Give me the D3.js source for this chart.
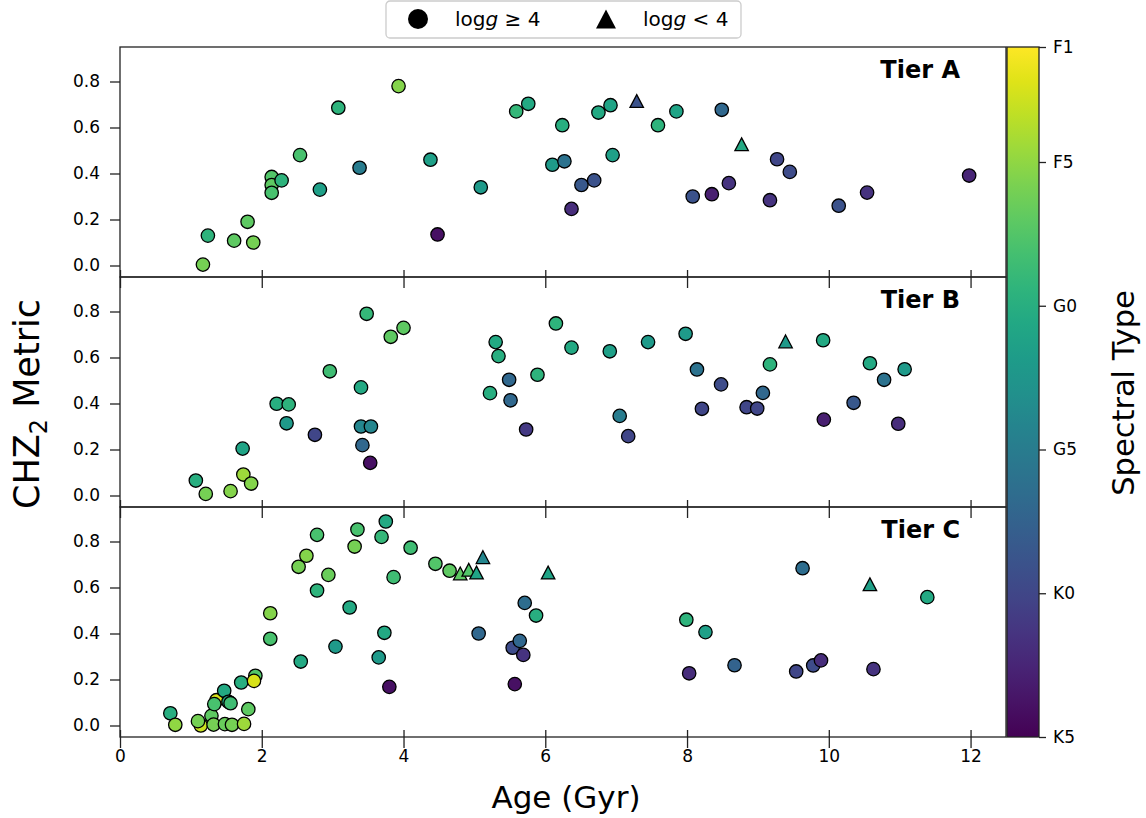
<!DOCTYPE html>
<html><head><meta charset="utf-8">
<script src="https://cdn.jsdelivr.net/npm/d3@7"></script>
<style>body{margin:0;background:#fff}svg text{font-family:"DejaVu Sans",sans-serif}</style>
</head><body><svg id="c" width="1146" height="818"></svg>
<script>
// ---- data (age Gyr, CHZ2 metric, spectral type index: F0=0,F5=5,G0=10,G5=15,K0=20,K5=25, logg class 1: logg>=4 circle, 0: logg<4 triangle)
const tierA_age = [1.17,1.24,1.61,1.80,1.88,2.14,2.14,2.14,2.28,2.54,2.82,3.08,3.38,3.93,4.38,4.48,5.09,5.59,5.76,6.10,6.24,6.27,6.37,6.51,6.69,6.75,6.92,7.29,6.95,7.59,7.85,8.08,8.35,8.49,8.59,8.77,9.17,9.27,9.45,10.14,10.54,11.98];
const tierA_chz = [0.004,0.13,0.108,0.19,0.10,0.385,0.35,0.316,0.37,0.48,0.33,0.686,0.425,0.78,0.46,0.135,0.34,0.67,0.703,0.438,0.61,0.453,0.246,0.35,0.37,0.665,0.697,0.715,0.48,0.61,0.67,0.30,0.31,0.677,0.358,0.527,0.284,0.462,0.407,0.26,0.317,0.391];
const tierA_spt = [6,9.5,7,7,6,7.5,7,8,9.5,8,11.5,9.5,15,5.5,11.5,24,12,9,10.5,12,10,16,22,18.5,19,10.5,11,19,11.5,9.5,11,19,23,17,21.5,10.5,21.5,20,19.5,19,21.5,22.5];
const tierA_logg = [1,1,1,1,1,1,1,1,1,1,1,1,1,1,1,1,1,1,1,1,1,1,1,1,1,1,1,0,1,1,1,1,1,1,1,0,1,1,1,1,1,1];

const tierB_age = [1.07,1.21,1.56,1.73,1.74,1.85,2.21,2.38,2.35,2.75,2.96,3.40,3.40,3.54,3.42,3.53,3.48,3.82,4.00,5.30,5.34,5.22,5.49,5.51,5.89,5.73,6.15,6.37,6.91,7.05,7.17,7.45,7.98,8.14,8.21,8.48,8.84,8.99,9.07,9.17,9.39,9.92,9.93,10.35,10.58,10.78,11.07,10.98];
const tierB_chz = [0.065,0.007,0.019,0.204,0.091,0.052,0.399,0.396,0.314,0.264,0.54,0.47,0.30,0.30,0.219,0.142,0.79,0.69,0.729,0.667,0.606,0.445,0.503,0.414,0.525,0.287,0.748,0.643,0.627,0.346,0.258,0.667,0.703,0.548,0.377,0.483,0.384,0.378,0.446,0.57,0.67,0.675,0.33,0.403,0.575,0.503,0.549,0.312];
const tierB_spt = [10,6,5.5,11,4.5,5.5,10,9.5,12,20,8.5,10.5,14,14,17,24,9,7,7,10.5,10,10,17,17,9.5,21,9.5,10.5,11.5,15,20,12,12,16,20,19.5,20,20,17,9.5,12,10.5,23,18.5,10.5,16,12,22];
const tierB_logg = [1,1,1,1,1,1,1,1,1,1,1,1,1,1,1,1,1,1,1,1,1,1,1,1,1,1,1,1,1,1,1,1,1,1,1,1,1,1,1,1,0,1,1,1,1,1,1,1];

const tierC_age = [1.14,1.36,0.71,0.78,1.10,1.29,1.32,1.33,1.47,1.53,1.56,1.48,1.58,1.75,1.81,1.71,1.91,1.89,2.12,2.12,2.55,2.52,2.63,2.78,2.78,2.94,3.04,3.24,3.31,3.35,3.65,3.69,3.73,3.75,3.80,3.86,4.10,4.45,4.65,4.80,4.92,5.03,5.12,6.04,5.06,5.57,5.54,5.64,5.69,5.71,5.87,7.99,8.26,8.03,8.67,9.63,9.54,9.78,9.89,10.58,10.63,11.39];
const tierC_chz = [0.0,0.11,0.053,0.003,0.019,0.042,0.004,0.093,0.151,0.103,0.097,0.006,0.003,0.007,0.071,0.187,0.216,0.194,0.488,0.377,0.278,0.69,0.738,0.829,0.587,0.655,0.343,0.513,0.778,0.852,0.296,0.82,0.403,0.887,0.168,0.645,0.773,0.703,0.673,0.661,0.677,0.665,0.732,0.665,0.40,0.18,0.338,0.368,0.307,0.533,0.478,0.46,0.406,0.227,0.262,0.684,0.235,0.261,0.283,0.614,0.245,0.558];
const tierC_spt = [3,2.5,10,5,6,7,6,8,10.5,11,8.5,6.5,6,4.5,7,10,7.5,2.5,5.5,8,10.5,6,5.5,8,9.5,6.5,12,10.5,6,8,12,9,10.5,10.5,24,8.5,8.5,7.5,7,7,7.5,11,14,11,17,24,19.5,17,21.5,16.5,10,9.5,11.5,22,17.5,16.5,20,19.5,22,11.5,21.5,10.5];
const tierC_logg = [1,1,1,1,1,1,1,1,1,1,1,1,1,1,1,1,1,1,1,1,1,1,1,1,1,1,1,1,1,1,1,1,1,1,1,1,1,1,1,0,0,0,0,0,1,1,1,1,1,1,1,1,1,1,1,1,1,1,1,0,1,1];

const tierNames = ["Tier A","Tier B","Tier C"];
const xTicks = [0,2,4,6,8,10,12];
const yTicks = [0.0,0.2,0.4,0.6,0.8];
const sptTickVals = [1,5,10,15,20,25];
const sptTickLabels = ["F1","F5","G0","G5","K0","K5"];
const legendLabels = [["log","g"," \u2265 4"],["log","g"," < 4"]];

// ---- layout
const svg = d3.select("#c");
const L = 120, R = 1006, panelH = 230, tops = [47,277,507];
const x = d3.scaleLinear().domain([0,12.5]).range([L,R]);
const sptScale = d3.scaleLinear().domain([1,25]).range([47,737]);
const color = s => d3.interpolateViridis((25 - s)/24);
const font = '"DejaVu Sans", sans-serif';
const ink = "#222";
const tickFont = 17;

const tiers = [
  {age:tierA_age, chz:tierA_chz, spt:tierA_spt, logg:tierA_logg},
  {age:tierB_age, chz:tierB_chz, spt:tierB_spt, logg:tierB_logg},
  {age:tierC_age, chz:tierC_chz, spt:tierC_spt, logg:tierC_logg}
];

const triPath = (r) => `M0,${-r}L${r*1.05},${r}L${-r*1.05},${r}Z`;

tiers.forEach((t, i) => {
  const top = tops[i];
  const y = d3.scaleLinear().domain([-0.05,0.95]).range([top+panelH, top]);
  const g = svg.append("g");
  const ya = g.append("g").attr("transform",`translate(${L},0)`)
    .call(d3.axisLeft(y).tickValues(yTicks).tickFormat(d3.format(".1f")).tickSize(10).tickPadding(10));
  ya.select(".domain").remove();
  ya.selectAll(".tick line").attr("stroke",ink).attr("stroke-width",1.3);
  ya.selectAll("text").attr("font-size",tickFont).attr("font-family",font).attr("fill","#000");
  const xa = g.append("g").attr("transform",`translate(0,${top+panelH})`)
    .call(d3.axisBottom(x).tickValues(xTicks).tickFormat(d3.format("d")).tickSizeOuter(0));
  xa.select(".domain").remove();
  xa.selectAll(".tick line").attr("y1",-7).attr("y2",11).attr("stroke",ink).attr("stroke-width",1.3);
  if (i < 2) xa.selectAll("text").remove();
  else xa.selectAll("text").attr("y",13).attr("font-size",tickFont).attr("font-family",font).attr("fill","#000");
  const pts = t.age.map((a,k)=>({a, c:t.chz[k], s:t.spt[k], lg:t.logg[k]}));
  g.selectAll(".pt").data(pts).join("path")
    .attr("transform", d=>`translate(${x(d.a)},${y(d.c)})`)
    .attr("d", d => d.lg ? d3.symbol(d3.symbolCircle, Math.PI*6.7*6.7)() : triPath(6.4))
    .attr("fill", d=>color(d.s)).attr("stroke","#000").attr("stroke-width",1.3);
  g.append("rect").attr("x",L).attr("y",top).attr("width",R-L).attr("height",panelH)
    .attr("fill","none").attr("stroke",ink).attr("stroke-width",1.3);
  g.append("text").attr("x",960).attr("y",top+31).attr("text-anchor","end")
    .attr("font-size",24).attr("font-weight","bold").attr("font-family",font).text(tierNames[i]);
});

// axis labels
svg.append("text").attr("x",(L+R)/2 + 3).attr("y",808).attr("text-anchor","middle")
  .attr("font-size",31).attr("font-family",font).text("Age (Gyr)");
const yl = svg.append("text").attr("transform","translate(39,404) rotate(-90)").attr("text-anchor","middle")
  .attr("font-size",35).attr("font-family",font);
yl.append("tspan").text("CHZ");
yl.append("tspan").attr("font-size",24).attr("dy",8).text("2");
yl.append("tspan").attr("dy",-8).text(" Metric");

// colorbar
const cbX = 1007, cbW = 32;
const defs = svg.append("defs");
const grad = defs.append("linearGradient").attr("id","vir").attr("x1",0).attr("y1",0).attr("x2",0).attr("y2",1);
d3.range(0,1.0001,0.05).forEach(f => grad.append("stop").attr("offset",f).attr("stop-color", d3.interpolateViridis(1-f)));
svg.append("rect").attr("x",cbX).attr("y",47).attr("width",cbW).attr("height",690).attr("fill","url(#vir)")
  .attr("stroke",ink).attr("stroke-width",1.3);
const ca = svg.append("g").attr("transform",`translate(${cbX+cbW},0)`)
  .call(d3.axisRight(sptScale).tickValues(sptTickVals).tickFormat((d,k)=>sptTickLabels[k]).tickSize(7).tickPadding(7));
ca.select(".domain").remove();
ca.selectAll(".tick line").attr("stroke",ink).attr("stroke-width",1.3);
ca.selectAll("text").attr("font-size",tickFont).attr("font-family",font).attr("fill","#000");
svg.append("text").attr("transform","translate(1134,393) rotate(-90)").attr("text-anchor","middle")
  .attr("font-size",30.5).attr("font-family",font).text("Spectral Type");

// legend
const lg = svg.append("g");
lg.append("rect").attr("x",386).attr("y",1).attr("width",355).attr("height",37).attr("rx",4)
  .attr("fill","#fff").attr("stroke","#ccc").attr("stroke-width",1.3);
lg.append("path").attr("transform","translate(418,19)").attr("d",d3.symbol(d3.symbolCircle,Math.PI*10*10)()).attr("fill","#000");
lg.append("path").attr("transform","translate(606,19)").attr("d",triPath(9.5)).attr("fill","#000");
[[455,0],[643,1]].forEach(([lx,k])=>{
  const tx = lg.append("text").attr("x",lx).attr("y",26).attr("font-size",20).attr("font-family",font);
  tx.append("tspan").text(legendLabels[k][0]);
  tx.append("tspan").attr("font-style","italic").text(legendLabels[k][1]);
  tx.append("tspan").text(legendLabels[k][2]);
});
</script></body></html>
